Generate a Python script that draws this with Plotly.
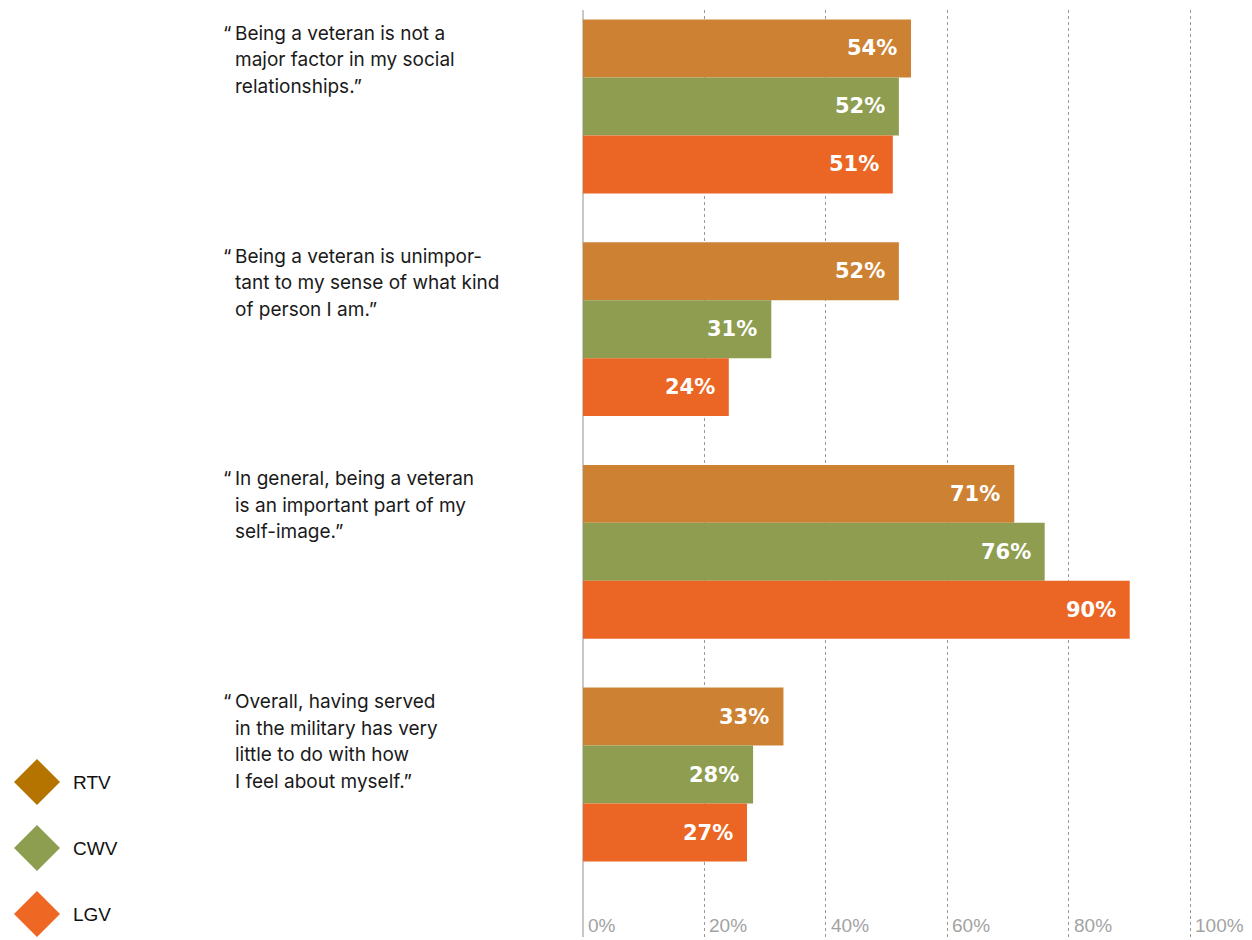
import plotly.graph_objects as go

# Survey statements (wrapped lines) and the share agreeing, by veteran group
statements = [
    ["Being a veteran is not a", "major factor in my social", "relationships.\u201d"],
    ["Being a veteran is unimpor-", "tant to my sense of what kind", "of person I am.\u201d"],
    ["In general, being a veteran", "is an important part of my", "self-image.\u201d"],
    ["Overall, having served", "in the military has very", "little to do with how", "I feel about myself.\u201d"],
]
categories = ["social", "identity", "self-image", "self-feeling"]

groups = ["RTV", "CWV", "LGV"]
rtv = [54, 52, 71, 33]
cwv = [52, 31, 76, 28]
lgv = [51, 24, 90, 27]
series = [rtv, cwv, lgv]

bar_colors = ["#CD8233", "#8E9D50", "#EB6624"]
legend_colors = ["#B57400", "#8E9E51", "#EE6723"]

tick_values = [0, 20, 40, 60, 80, 100]
tick_labels = ["0%", "20%", "40%", "60%", "80%", "100%"]

W, H = 1252, 940
X0, X1 = 583, 1193.5          # plot area, pixels
Y0, Y1 = 10, 937
X_RANGE = [0, 100.5]
Y_RANGE = [3.7297, -0.4333]    # reversed categorical axis

TEXT_FONT = "Inter"

fig = go.Figure()
for name, vals, col in zip(groups, series, bar_colors):
    fig.add_trace(go.Bar(
        x=vals, y=categories, orientation="h", name=name,
        marker=dict(color=col, line=dict(width=0)),
        showlegend=False, hoverinfo="skip",
    ))

ann = []
# value labels at the end of each bar
for k, (vals, dy) in enumerate(zip(series, [58, 0, -58])):
    for cat, v in zip(categories, vals):
        ann.append(dict(
            x=v, y=cat, xref="x", yref="y", text=f"<b>{v}%</b>",
            xanchor="right", yanchor="middle", xshift=-12, yshift=dy,
            showarrow=False,
            font=dict(family="DejaVu Sans", size=21, color="white"),
        ))

# statement labels with a hanging opening quote
TX = 233 / W
for cat, lines in zip(categories, statements):
    ann.append(dict(
        x=TX, y=cat, xref="paper", yref="y", text="\u201c",
        xanchor="right", yanchor="middle", yshift=73, showarrow=False,
        font=dict(family=TEXT_FONT, size=19, color="#1a1a1a"),
    ))
    for j, line in enumerate(lines):
        ann.append(dict(
            x=TX, y=cat, xref="paper", yref="y", text=line,
            xanchor="left", yanchor="middle", yshift=73 - 26.5 * j,
            showarrow=False,
            font=dict(family=TEXT_FONT, size=19, color="#1a1a1a"),
        ))

# x tick labels sitting just right of each gridline near the bottom
for v, t in zip(tick_values, tick_labels):
    ann.append(dict(
        x=v, y=1 - 925 / H, xref="x", yref="paper", text=t,
        xanchor="left", yanchor="middle", xshift=3, showarrow=False,
        font=dict(family="Liberation Sans", size=19, color="#a3a3a3"),
    ))

# legend: large diamonds with labels
shapes = []
for name, col, cy in zip(groups, legend_colors, [782, 848, 914]):
    cx, r = 37, 23
    pts = [(cx, cy - r), (cx + r, cy), (cx, cy + r), (cx - r, cy)]
    path = "M " + " L ".join(f"{px / W:.5f},{1 - py / H:.5f}" for px, py in pts) + " Z"
    shapes.append(dict(type="path", xref="paper", yref="paper", path=path,
                       fillcolor=col, line=dict(width=0)))
    ann.append(dict(
        x=71 / W, y=1 - cy / H, xref="paper", yref="paper", text=name,
        xanchor="left", yanchor="middle", showarrow=False,
        font=dict(family="Liberation Sans", size=19, color="#111111"),
    ))

fig.update_layout(
    width=W, height=H,
    margin=dict(l=0, r=0, t=0, b=0),
    paper_bgcolor="white", plot_bgcolor="white",
    barmode="group", bargap=0.219, bargroupgap=0,
    xaxis=dict(
        domain=[X0 / W, X1 / W], range=X_RANGE, tickvals=tick_values,
        showticklabels=False, ticks="", showgrid=True, gridcolor="#9a9a9a",
        griddash="dot", gridwidth=1, zeroline=True, zerolinecolor="#c8c8c8",
        zerolinewidth=2, showline=False, fixedrange=True,
    ),
    yaxis=dict(
        domain=[1 - Y1 / H, 1 - Y0 / H], range=Y_RANGE, type="category",
        showticklabels=False, ticks="", showgrid=False, zeroline=False,
        showline=False, fixedrange=True,
    ),
    annotations=ann,
    shapes=shapes,
    showlegend=False,
)

fig.write_html("out.html", config={"displayModeBar": False})
